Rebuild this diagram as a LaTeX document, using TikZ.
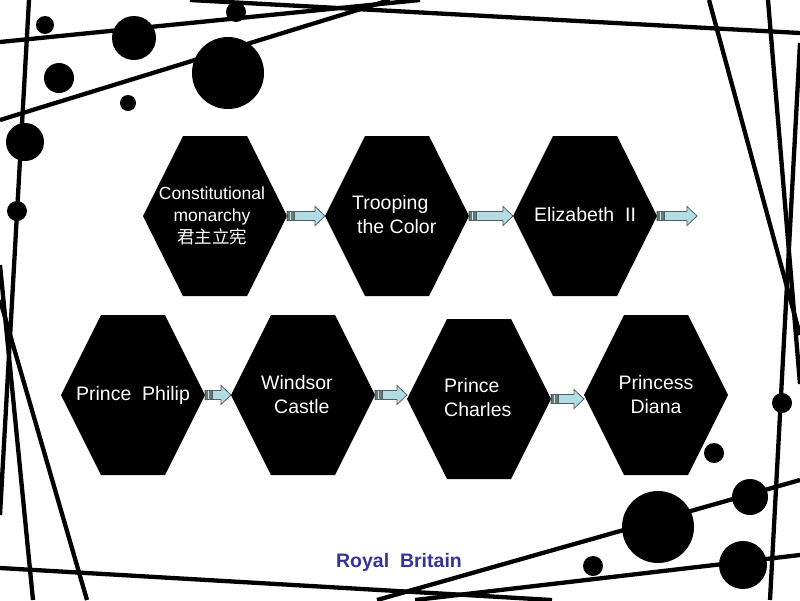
\documentclass[tikz,border=0pt]{standalone}
\usepackage{fontspec}
\setmainfont{Liberation Sans}
\newfontfamily\cjkfont{Noto Sans CJK SC}
\usetikzlibrary{calc}
\definecolor{arrowblue}{HTML}{B4DCE4}
\definecolor{arrowedge}{HTML}{4F5F60}
\definecolor{arrowtail}{HTML}{66787A}
\definecolor{titleblue}{HTML}{333399}
\tikzset{
  deco/.style={line width=4.3pt},
  dot/.style={fill=black},
  hexfill/.style={fill=black},
  lbl/.style={text=white, align=center, font=\fontsize{19.5}{24}\selectfont, inner sep=0pt},
  lbll/.style={text=white, align=left, font=\fontsize{19.5}{24}\selectfont, inner sep=0pt, anchor=west},
  smalllbl/.style={text=white, align=center, font=\fontsize{17.5}{22}\selectfont, inner sep=0pt},
  arrbody/.style={fill=arrowblue, draw=arrowedge, line width=0.8pt, line join=miter},
  arrtail/.style={fill=arrowtail, draw=arrowedge, line width=0.5pt},
  titlestyle/.style={text=titleblue, font=\bfseries\fontsize{19.5}{24}\selectfont, inner sep=0pt}
}
\newcommand\hexagonat[3]{%
  \coordinate (#1) at (#2,#3);
  \fill[hexfill] (#1) ++(-72,0) -- ++(40,-80) -- ++(64,0) -- ++(40,80) -- ++(-40,80) -- ++(-64,0) -- cycle;
  \coordinate (#1w) at ($(#1)+(-72,0)$);
  \coordinate (#1e) at ($(#1)+(72,0)$);
}
\newcommand\blockarrow[2]{%
  \filldraw[arrbody] let \p1=(#1), \p2=(#2), \n1={\x2-\x1} in
    ($(#1)+(0,-4.5)$) -- ++({\n1-10},0) -- ++(0,-5) -- ++(10,9.5) -- ++(-10,9.5) -- ++(0,-5) -- ($(#1)+(0,4.5)$) -- cycle;
  \filldraw[arrtail] ($(#1)+(0,-4.5)$) rectangle ($(#1)+(7,4.5)$);
  \draw[arrowblue!70!white, line width=0.6pt] ($(#1)+(3.5,-4)$) -- ($(#1)+(3.5,4)$);
}
\begin{document}
\begin{tikzpicture}[x=1pt,y=-1pt]
\useasboundingbox (0,0) rectangle (800,600);
\fill[white] (0,0) rectangle (800,600);
\begin{scope}
\clip (0,0) rectangle (800,600);
% decorative lines
\draw[deco] (0,42) -- (420,0);
\draw[deco] (190,0) -- (800,33);
\draw[deco] (0,120) -- (390,0);
\draw[deco] (29,0) -- (0,515);
\draw[deco] (0,265) -- (33,600);
\draw[deco] (0,300) -- (87,600);
\draw[deco] (0,568) -- (552,600);
\draw[deco] (377,600) -- (800,480);
\draw[deco] (415,600) -- (800,555);
\draw[deco] (709,0) -- (800,335);
\draw[deco] (768,0) -- (800,384);
\draw[deco] (800,43) -- (770,600);
% decorative dots
\fill[dot] (45,25) circle (9);
\fill[dot] (134,38) circle (22);
\fill[dot] (236,12) circle (10);
\fill[dot] (228,73) circle (36);
\fill[dot] (59,78) circle (15);
\fill[dot] (128,103) circle (8);
\fill[dot] (25,142) circle (19);
\fill[dot] (17,211) circle (10);
\fill[dot] (782,403) circle (10);
\fill[dot] (714,453) circle (10);
\fill[dot] (658,527) circle (36);
\fill[dot] (750,497) circle (18);
\fill[dot] (593,566) circle (10);
\fill[dot] (743,565) circle (24);
\end{scope}
% hexagons
\hexagonat{h1}{215}{216}
\hexagonat{h2}{397}{216}
\hexagonat{h3}{585}{216}
\hexagonat{h4}{133}{395}
\hexagonat{h5}{303}{395}
\hexagonat{h6}{479}{399}
\hexagonat{h7}{656}{395}
\coordinate (endtip) at (697,216);
% connectors
\blockarrow{h1e}{h2w}
\blockarrow{h2e}{h3w}
\blockarrow{h3e}{endtip}
\blockarrow{h4e}{h5w}
\blockarrow{h5e}{h6w}
\blockarrow{h6e}{h7w}
% labels
\node[smalllbl] (t1) at (212,216) {Constitutional\\monarchy\\{\cjkfont 君主立宪}};
\node[lbll] (t2) at (352,215) {Trooping\\\hspace*{5pt}the Color};
\node[lbl] (t3) at (585,215) {Elizabeth\ \ II};
\node[lbl] (t4) at (133,395) {Prince\ \ Philip};
\node[lbll] (t5) at (261,395) {Windsor\\\hspace*{13pt}Castle};
\node[lbll] (t6) at (444,398) {Prince\\Charles};
\node[lbl] (t7) at (656,395) {Princess\\Diana};
\node[titlestyle] (title) at (399,562) {Royal\ \ Britain};
\end{tikzpicture}
\end{document}
